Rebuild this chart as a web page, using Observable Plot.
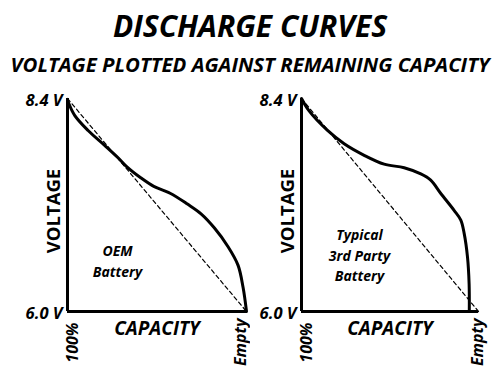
<!DOCTYPE html>
<html>
<head>
<meta charset="utf-8">
<script src="https://cdn.jsdelivr.net/npm/d3@7"></script>
<script src="https://cdn.jsdelivr.net/npm/@observablehq/plot@0.6"></script>
<style>
  html, body { margin: 0; padding: 0; background: #fff; }
  #wrap { position: relative; width: 500px; height: 373px; overflow: hidden; font-family: "Open Sans", Lato, sans-serif; }
  .title { position: absolute; left: 0; width: 500px; text-align: center; font-weight: bold; font-style: italic; color: #000; white-space: nowrap; }
  #t1 { top: 9px; font-size: 30px; line-height: 34px; }
  #t2 { top: 52px; font-size: 20.4px; line-height: 24px; }
  .panel { position: absolute; top: 80px; }
  #p1 { left: 0; }
  #p2 { left: 250px; }
</style>
</head>
<body>
<div id="wrap">
  <div class="title" id="t1">DISCHARGE CURVES</div>
  <div class="title" id="t2">VOLTAGE PLOTTED AGAINST REMAINING CAPACITY</div>
  <div class="panel" id="p1"></div>
  <div class="panel" id="p2"></div>
</div>
<script>
// capacity used: 0 = 100% (full), 1 = Empty
const oemCapacity = [0, 0.04, 0.115, 0.209, 0.284, 0.332, 0.407, 0.482, 0.576, 0.67, 0.746, 0.821, 0.897, 0.953, 0.981, 1];
const oemVoltage  = [8.38, 8.21, 8.04, 7.87, 7.73, 7.63, 7.51, 7.41, 7.33, 7.21, 7.10, 6.94, 6.73, 6.52, 6.27, 6.0];

const thirdCapacity = [0, 0.043, 0.147, 0.241, 0.354, 0.467, 0.58, 0.674, 0.73, 0.787, 0.862, 0.9, 0.919, 0.938, 0.947, 0.948];
const thirdVoltage  = [8.4, 8.26, 8.04, 7.89, 7.76, 7.66, 7.62, 7.55, 7.48, 7.33, 7.14, 7.03, 6.88, 6.61, 6.31, 6.0];

const refCapacity = [0, 1];
const refVoltage  = [8.4, 6.0];

const voltageTicks = [6.0, 8.4];
const capacityTicks = [0, 1];
const capacityTickLabels = ["100%", "Empty"];

const yLabel = "VOLTAGE";
const xLabel = "CAPACITY";
const panelLabels = [["OEM", "Battery"], ["Typical", "3rd Party", "Battery"]];

const toRows = (xs, ys) => xs.map((x, i) => ({x, y: ys[i]}));

function panel({capacity, voltage, label, marginLeft, marginRight, labelDx, labelDy, fullDx, emptyDx}) {
  const curve = toRows(capacity, voltage);
  const ref = toRows(refCapacity, refVoltage);
  const bi = {fontWeight: "bold", fontStyle: "italic"};
  return Plot.plot({
    width: 250,
    height: 293,
    marginLeft,
    marginRight,
    marginTop: 18,
    marginBottom: 62,
    style: {fontFamily: "'Open Sans', Lato, sans-serif", fontSize: "15px", color: "#000", background: "#fff"},
    x: {domain: [0, 1], axis: null},
    y: {domain: [6.0, 8.4], axis: null},
    marks: [
      Plot.text(voltageTicks, {y: d => d, text: d => d.toFixed(1) + " V", frameAnchor: "left", textAnchor: "end",
        lineAnchor: "middle", dx: -5, dy: 2, fontSize: 16.5, ...bi}),
      Plot.line(ref, {x: "x", y: "y", stroke: "#000", strokeWidth: 1.2, strokeDasharray: "4,3"}),
      Plot.line(curve, {x: "x", y: "y", stroke: "#000", strokeWidth: 3, curve: "catmull-rom", strokeLinejoin: "round"}),
      Plot.ruleX([0], {y1: 6.0, y2: 8.4, stroke: "#000", strokeWidth: 3}),
      Plot.ruleY([6.0], {x1: 0, x2: 1, stroke: "#000", strokeWidth: 3}),
      Plot.text([yLabel], {text: d => d, frameAnchor: "left", rotate: -90, textAnchor: "middle", lineAnchor: "middle",
        dx: -13, dy: 6, fontSize: 18.5, fontWeight: "bold"}),
      Plot.text([xLabel], {text: d => d, frameAnchor: "bottom", textAnchor: "middle", lineAnchor: "middle", dy: 17, fontSize: 19, ...bi}),
      Plot.text([capacityTickLabels[0]], {x: [capacityTicks[0]], text: d => d, frameAnchor: "bottom", rotate: -90,
        textAnchor: "end", lineAnchor: "middle", dy: 11, dx: fullDx, fontSize: 16, ...bi}),
      Plot.text([capacityTickLabels[1]], {x: [capacityTicks[1]], text: d => d, frameAnchor: "bottom", rotate: -90,
        textAnchor: "end", lineAnchor: "middle", dy: 7, dx: emptyDx, fontSize: 16, ...bi}),
      Plot.text([label.join("\n")], {text: d => d, frameAnchor: "left", textAnchor: "middle", lineAnchor: "middle",
        dx: labelDx, dy: labelDy, fontSize: 14, lineHeight: 1.45, ...bi})
    ]
  });
}

document.getElementById("p1").appendChild(panel({
  capacity: oemCapacity, voltage: oemVoltage, label: panelLabels[0],
  marginLeft: 67, marginRight: 4, labelDx: 50, labelDy: 55, fullDx: 5, emptyDx: -6
}));
document.getElementById("p2").appendChild(panel({
  capacity: thirdCapacity, voltage: thirdVoltage, label: panelLabels[1],
  marginLeft: 51, marginRight: 22, labelDx: 58, labelDy: 49, fullDx: 5, emptyDx: -1
}));
</script>
</body>
</html>
